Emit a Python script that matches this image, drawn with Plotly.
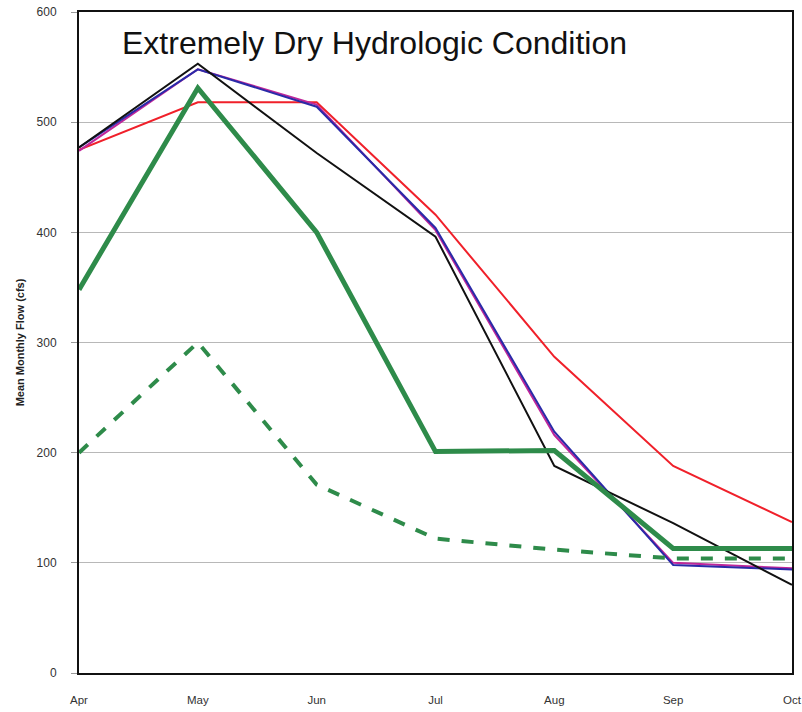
import plotly.graph_objects as go

months = ["Apr", "May", "Jun", "Jul", "Aug", "Sep", "Oct"]
black_vals = [477, 553, 472, 396, 188, 136, 80]
magenta_vals = [474, 548, 516, 402, 216, 100, 95]
blue_vals = [477, 548, 514, 404, 219, 98, 94]
red_vals = [475, 518, 518, 416, 287, 188, 137]
green_vals = [348, 531, 400, 201, 202, 113, 113]
green_dash_vals = [200, 300, 171, 122, 112, 104, 104]

fig = go.Figure()
fig.add_trace(go.Scatter(x=months, y=red_vals, mode="lines", line=dict(color="#f0202a", width=2)))
fig.add_trace(go.Scatter(x=months, y=magenta_vals, mode="lines", line=dict(color="#c0269a", width=2)))
fig.add_trace(go.Scatter(x=months, y=blue_vals, mode="lines", line=dict(color="#2a2aa8", width=2)))
fig.add_trace(go.Scatter(x=months, y=black_vals, mode="lines", line=dict(color="#111111", width=2)))
fig.add_trace(go.Scatter(x=months, y=green_vals, mode="lines", line=dict(color="#2e8b4a", width=5)))
fig.add_trace(go.Scatter(x=months, y=green_dash_vals, mode="lines", line=dict(color="#2e8b4a", width=4, dash="dash")))

fig.add_annotation(text="Extremely Dry Hydrologic Condition", xref="paper", yref="paper",
                   x=0.058, y=0.953, xanchor="left", yanchor="middle", showarrow=False,
                   font=dict(family="Liberation Sans, Arial", size=32, color="#111111"))

fig.update_layout(
    width=802, height=712,
    margin=dict(l=79, r=10, t=12, b=39),
    paper_bgcolor="white", plot_bgcolor="white",
    showlegend=False,
    font=dict(family="Liberation Sans, Arial", size=12, color="#333333"),
    xaxis=dict(type="category", range=[0, 6], showgrid=False, showline=True, mirror=True,
               linecolor="#111111", linewidth=2, ticks="", tickfont=dict(size=11.5, color="#333333"),
               ticklabelstandoff=15, automargin=False, ticklabeloverflow="allow"),
    yaxis=dict(range=[0, 600], dtick=100, showgrid=True, gridcolor="#b8b8b8", gridwidth=1,
               showline=True, mirror=True, linecolor="#111111", linewidth=2, zeroline=False,
               ticks="outside", ticklen=6, tickcolor="#999999", automargin=False,
               ticklabelstandoff=12, ticklabeloverflow="allow",
               title=dict(text="<b>Mean Monthly Flow (cfs)</b>", font=dict(size=11, color="#222222"), standoff=10),
               tickfont=dict(size=12, color="#333333")),
)

fig.write_html("out.html", config={"displayModeBar": False},
               post_script="document.body.style.margin='0px';")
